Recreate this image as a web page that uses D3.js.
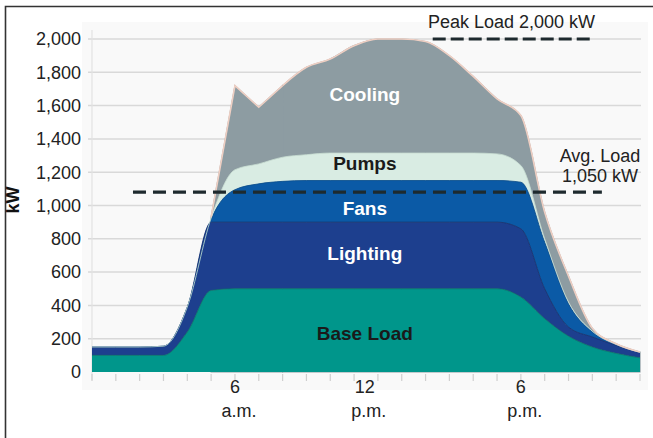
<!DOCTYPE html>
<html>
<head>
<meta charset="utf-8">
<script src="https://cdn.jsdelivr.net/npm/d3@7"></script>
<style>
  html, body { margin: 0; padding: 0; background: #fff; }
  svg { display: block; font-family: "Liberation Sans", Arial, sans-serif; }
</style>
</head>
<body>
<svg id="chart" width="653" height="438"></svg>
<script>
// ---- data (kW per hour, stacked) ----
const hours = [0,1,2,3,4,5,6,7,8,9,10,11,12,13,14,15,16,17,18,19,20,21,22,23];
const baseLoad = [100,100,100,100,240,490,500,500,500,500,500,500,500,500,500,500,500,500,450,320,215,150,112,85];
const lighting = [50,50,50,55,150,410,400,400,400,400,400,400,400,400,400,400,400,400,410,180,55,60,48,30];
const fans     = [0,0,0,0,0,15,195,230,245,250,250,250,250,250,250,250,250,250,280,280,140,30,5,3];
const pumps    = [0,0,0,0,0,10,120,120,145,155,165,165,165,165,165,165,165,160,100,20,10,5,0,0];
const cooling  = [0,0,0,0,0,5,505,340,430,525,565,645,685,685,670,585,460,330,300,160,155,17,5,2];

const layerNames = ["Base Load", "Lighting", "Fans", "Pumps", "Cooling"];
const yTicks = [0,200,400,600,800,1000,1200,1400,1600,1800,2000];
const xTickHours = [6, 11.45, 18];
const xTickTop = ["6", "12", "6"];
const xTickBottom = ["a.m.", "p.m.", "p.m."];

const peakLoad = 2000, peakSpan = [14.3, 21.05];
const avgLine = 1080, avgSpan = [1.72, 21.4];

(function () {
  "use strict";

  const svg = d3.select("#chart");
  const x = d3.scaleLinear().domain([0, 23]).range([92, 640]);
  const y = d3.scaleLinear().domain([0, 2000]).range([372, 39]);

  const colors = {
    "Base Load": "#00968b",
    "Lighting": "#1d3f8e",
    "Fans": "#0b5aa6",
    "Pumps": "#d9ece3",
    "Cooling": "#8d9ca2"
  };
  const edge = {
    "Base Load": "#0b6f6a",
    "Lighting": "#15306e",
    "Fans": "#0a4d8c",
    "Pumps": "#c8ddd2",
    "Cooling": "#efcfc3"
  };

  // outer frame
  svg.append("path")
    .attr("d", "M5.5,438 V6.5 H653")
    .attr("fill", "none")
    .attr("stroke", "#333")
    .attr("stroke-width", 1.6);

  // plot backdrop
  svg.append("rect")
    .attr("x", 82).attr("y", 22)
    .attr("width", 566).attr("height", 368)
    .attr("fill", "#f9f9f9");

  // grid
  svg.append("g").selectAll("line")
    .data(yTicks.filter(d => d > 0))
    .join("line")
    .attr("x1", 88).attr("x2", 641)
    .attr("y1", d => y(d)).attr("y2", d => y(d))
    .attr("stroke", "#d9d9d9")
    .attr("stroke-width", 1.5);

  svg.append("line")
    .attr("x1", x(0)).attr("x2", x(0))
    .attr("y1", 30).attr("y2", 380)
    .attr("stroke", "#e2e2e2").attr("stroke-width", 1.2);

  // y labels
  svg.append("g").selectAll("text")
    .data(yTicks)
    .join("text")
    .attr("x", 81)
    .attr("y", d => y(d))
    .attr("dy", "0.35em")
    .attr("text-anchor", "end")
    .attr("font-size", "18px")
    .attr("fill", "#222")
    .text(d => d3.format(",")(d));

  svg.append("text")
    .attr("transform", "translate(19,200) rotate(-90)")
    .attr("text-anchor", "middle")
    .attr("font-size", "18px")
    .attr("font-weight", "bold")
    .attr("fill", "#111")
    .text("kW");

  // stacked areas
  const rows = hours.map((h, i) => ({
    hour: h,
    "Base Load": baseLoad[i],
    "Lighting": lighting[i],
    "Fans": fans[i],
    "Pumps": pumps[i],
    "Cooling": cooling[i]
  }));
  const series = d3.stack().keys(layerNames)(rows);

  const area = d3.area()
    .x(d => x(d.data.hour))
    .y0(d => y(d[0]))
    .y1(d => y(d[1]))
    .curve(d3.curveMonotoneX);

  const topLine = d3.line()
    .x(d => x(d.data.hour))
    .y(d => y(d[1]))
    .curve(d3.curveMonotoneX);

  // outer hull (cooling top): smooth, except straight pieces round the morning spike
  const hullSegs = [
    { from: 0, to: 5, curve: d3.curveMonotoneX },
    { from: 5, to: 8, curve: d3.curveLinear },
    { from: 8, to: 23, curve: d3.curveMonotoneX }
  ];
  const coolingSeries = series[series.length - 1];

  const layers = svg.append("g");
  hullSegs.forEach(seg => {
    const part = coolingSeries.slice(seg.from, seg.to + 1);
    layers.append("path")
      .datum(part)
      .attr("fill", colors.Cooling)
      .attr("stroke", seg.from === 0 ? "none" : colors.Cooling)
      .attr("stroke-width", 1.2)
      .attr("d", d3.area()
        .x(d => x(d.data.hour))
        .y0(y(0))
        .y1(d => y(d[1]))
        .curve(seg.curve));
  });
  series.slice(0, -1).reverse().forEach(s => {
    layers.append("path")
      .datum(s)
      .attr("fill", colors[s.key])
      .attr("d", area);
  });
  series.slice(0, -1).forEach(s => {
    layers.append("path")
      .datum(s)
      .attr("fill", "none")
      .attr("stroke", edge[s.key])
      .attr("stroke-width", 1)
      .attr("stroke-opacity", 0.8)
      .attr("d", topLine);
  });
  hullSegs.forEach(seg => {
    if (seg.from === 0) return;
    const part = coolingSeries.slice(seg.from, seg.to + 1);
    layers.append("path")
      .datum(part)
      .attr("fill", "none")
      .attr("stroke", edge.Cooling)
      .attr("stroke-width", 1.6)
      .attr("d", d3.line()
        .x(d => x(d.data.hour))
        .y(d => y(d[1]))
        .curve(seg.curve));
  });

  // x ticks
  svg.append("g").selectAll("line")
    .data(hours)
    .join("line")
    .attr("x1", d => x(d)).attr("x2", d => x(d))
    .attr("y1", 374).attr("y2", 381)
    .attr("stroke", "#cfcfcf").attr("stroke-width", 1.2);

  const xl = svg.append("g")
    .attr("font-size", "18px")
    .attr("fill", "#222")
    .attr("text-anchor", "middle");
  xl.selectAll("text.top")
    .data(xTickHours)
    .join("text")
    .attr("class", "top")
    .attr("x", d => x(d))
    .attr("y", 393)
    .text((d, i) => xTickTop[i]);
  xl.selectAll("text.bot")
    .data(xTickHours)
    .join("text")
    .attr("class", "bot")
    .attr("x", d => x(d) + 4)
    .attr("y", 417)
    .text((d, i) => xTickBottom[i]);

  // layer labels
  const labelHour = 11.45;
  const labels = [
    { name: "Cooling", kw: 1670, fill: "#fff" },
    { name: "Pumps", kw: 1255, fill: "#1a1a1a" },
    { name: "Fans", kw: 980, fill: "#fff" },
    { name: "Lighting", kw: 710, fill: "#fff" },
    { name: "Base Load", kw: 235, fill: "#1a1a1a" }
  ];
  svg.append("g").selectAll("text")
    .data(labels)
    .join("text")
    .attr("x", x(labelHour))
    .attr("y", d => y(d.kw))
    .attr("dy", "0.35em")
    .attr("text-anchor", "middle")
    .attr("font-size", "19px")
    .attr("font-weight", "bold")
    .attr("fill", d => d.fill)
    .text(d => d.name);

  // reference lines
  svg.append("line")
    .attr("x1", x(avgSpan[0])).attr("x2", x(avgSpan[1]))
    .attr("y1", y(avgLine)).attr("y2", y(avgLine))
    .attr("stroke", "#1e2a2e")
    .attr("stroke-width", 3.2)
    .attr("stroke-dasharray", "13,7");

  svg.append("line")
    .attr("x1", x(peakSpan[0])).attr("x2", x(peakSpan[1]))
    .attr("y1", y(peakLoad)).attr("y2", y(peakLoad))
    .attr("stroke", "#1e2a2e")
    .attr("stroke-width", 3.2)
    .attr("stroke-dasharray", "13,5");

  svg.append("text")
    .attr("x", 428).attr("y", 28)
    .attr("font-size", "18px")
    .attr("fill", "#222")
    .text("Peak Load 2,000 kW");

  const avg = svg.append("g")
    .attr("font-size", "18px")
    .attr("fill", "#222")
    .attr("text-anchor", "middle");
  avg.append("text").attr("x", 600).attr("y", 162).text("Avg. Load");
  avg.append("text").attr("x", 600).attr("y", 182).text("1,050 kW");
})();
</script>
</body>
</html>
